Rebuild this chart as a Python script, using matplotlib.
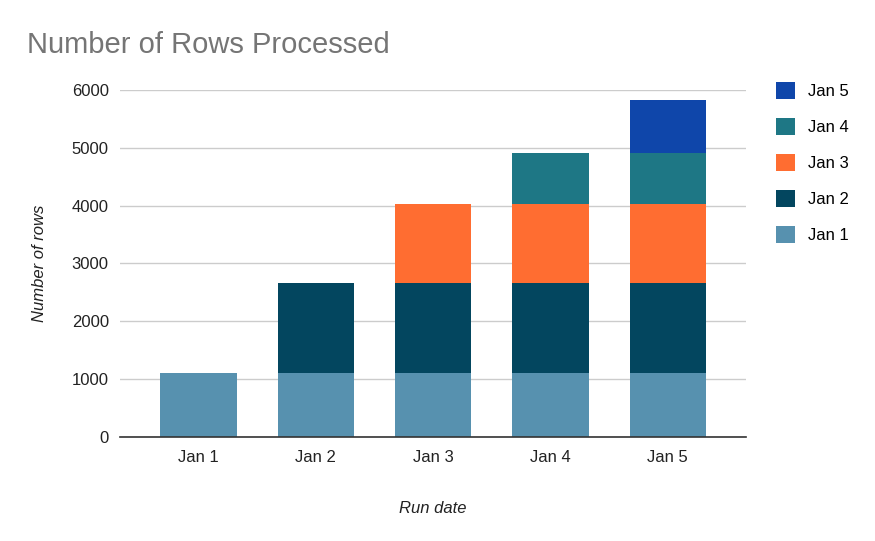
import matplotlib
matplotlib.use("Agg")
import matplotlib.pyplot as plt
import numpy as np

plt.rcParams['font.family'] = ['Liberation Sans', 'DejaVu Sans']

categories = ["Jan 1", "Jan 2", "Jan 3", "Jan 4", "Jan 5"]
series_names = ["Jan 1", "Jan 2", "Jan 3", "Jan 4", "Jan 5"]
jan1 = [1110, 1110, 1110, 1110, 1110]
jan2 = [0, 1555, 1555, 1555, 1555]
jan3 = [0, 0, 1360, 1360, 1360]
jan4 = [0, 0, 0, 880, 880]
jan5 = [0, 0, 0, 0, 925]
colors = ["#5791AF", "#03465F", "#FF6D31", "#1E7785", "#0F46AA"]
yticks = [0, 1000, 2000, 3000, 4000, 5000, 6000]

fig = plt.figure(figsize=(8.75, 5.41), dpi=100)
ax = fig.add_axes([0.137, 0.192, 0.716, 0.642])

x = np.arange(len(categories))
bottom = np.zeros(len(categories))
handles = []
for name, vals, c in zip(series_names, [jan1, jan2, jan3, jan4, jan5], colors):
    vals = np.array(vals, dtype=float)
    h = ax.bar(x, vals, 0.65, bottom=bottom, color=c, label=name, zorder=3)
    handles.append(h)
    bottom += vals

ax.set_xlim(-0.67, 4.67)
ax.set_ylim(0, 6000)
ax.set_yticks(yticks)
ax.set_yticklabels([str(t) for t in yticks], fontsize=12, color="#222222")
ax.set_xticks(x)
ax.set_xticklabels(categories, fontsize=12, color="#222222")
ax.tick_params(axis='y', length=0, pad=8)
ax.tick_params(axis='x', length=0, pad=9)
ax.grid(axis='y', color="#cccccc", linewidth=1, zorder=0)
for s in ["left", "right", "top"]:
    ax.spines[s].set_visible(False)
ax.spines["bottom"].set_color("#333333")
ax.spines["bottom"].set_linewidth(1.2)
ax.spines["bottom"].set_zorder(4)

ax.set_ylabel("Number of rows", fontsize=12, style="italic", color="#222222", labelpad=18)
ax.set_xlabel("Run date", fontsize=12, style="italic", color="#222222", labelpad=26)

fig.text(27/875, 1 - 45/541, "Number of Rows Processed", fontsize=21, color="#757575",
         va="center", ha="left")

leg = fig.legend(handles[::-1], series_names[::-1], loc="upper left",
                 bbox_to_anchor=(761/875, 1 - 67/541), frameon=False, fontsize=12,
                 handlelength=1.15, handleheight=1.15, labelspacing=1.15, handletextpad=0.8)

fig.savefig("out.png", dpi=100)
